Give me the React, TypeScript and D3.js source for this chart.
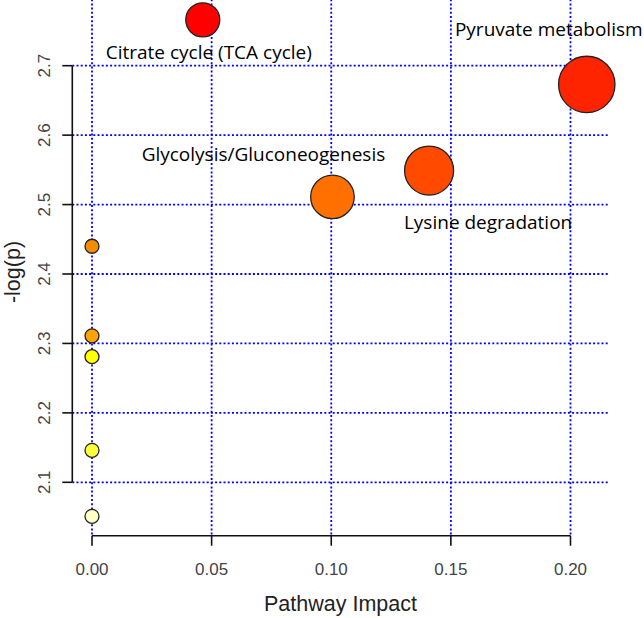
import React from "react";
import * as d3 from "d3";

// ---- data ----
const pathwayNames = [
  "Citrate cycle (TCA cycle)",
  "Pyruvate metabolism",
  "Lysine degradation",
  "Glycolysis/Gluconeogenesis",
  "",
  "",
  "",
  "",
  "",
];
const impactValues = [0.0463, 0.2068, 0.1409, 0.1005, 0, 0, 0, 0, 0];
const logPValues = [2.766, 2.673, 2.549, 2.511, 2.44, 2.311, 2.281, 2.146, 2.051];
const pointColors = [
  "#FF0000",
  "#FF2400",
  "#FF4A00",
  "#FF7000",
  "#F58C00",
  "#FFA300",
  "#FFFF00",
  "#FFFF3C",
  "#FFFFC6",
];
const xTicks = [0, 0.05, 0.1, 0.15, 0.2];
const yTicks = [2.1, 2.2, 2.3, 2.4, 2.5, 2.6, 2.7];
const xTitle = "Pathway Impact";
const yTitle = "-log(p)";

// label placement offsets relative to its point (dx, dy of text baseline-center)
const labelOffsets: [number, number][] = [
  [6, 39],
  [-38, -48],
  [59, 58],
  [-69, -36],
];

const W = 644;
const H = 618;

export default function App() {
  const x = d3.scaleLinear().domain([0, 0.2]).range([92, 570.5]);
  const y = d3.scaleLinear().domain([2.1, 2.7]).range([482.3, 65.7]);
  const r = d3.scaleSqrt().domain([0, 0.2068]).range([7, 28.2]);

  const plotLeft = 72.3;
  const plotRight = 608;
  const plotBottom = 535.7;

  const axisFont = "'Liberation Sans', Arial, sans-serif";
  const labelFont = "'Open Sans', sans-serif";

  const points = logPValues.map((lp, i) => ({
    name: pathwayNames[i],
    impact: impactValues[i],
    lp,
    color: pointColors[i],
  }));
  const drawOrder = [...points].sort((a, b) => b.impact - a.impact);

  return (
    <svg
      width={W}
      height={H}
      viewBox={`0 0 ${W} ${H}`}
      style={{ position: "absolute", left: 0, top: 0, background: "#fff" }}
    >
      <rect x={0} y={0} width={W} height={H} fill="#fff" />
      {/* grid */}
      <g stroke="#0000ff" strokeWidth={1.8} strokeDasharray="2 2.2" fill="none">
        {xTicks.map((t) => (
          <line key={"vx" + t} x1={x(t)} x2={x(t)} y1={-5} y2={plotBottom} />
        ))}
        {yTicks.map((t) => (
          <line key={"hy" + t} x1={plotLeft} x2={plotRight} y1={y(t)} y2={y(t)} />
        ))}
      </g>

      {/* axes */}
      <g stroke="#111" strokeWidth={1.6} fill="none">
        <line x1={plotLeft} x2={plotLeft} y1={y(2.7)} y2={y(2.1)} />
        {yTicks.map((t) => (
          <line key={"yt" + t} x1={plotLeft - 10} x2={plotLeft} y1={y(t)} y2={y(t)} />
        ))}
        <line x1={x(0)} x2={x(0.2)} y1={plotBottom} y2={plotBottom} />
        {xTicks.map((t) => (
          <line key={"xt" + t} x1={x(t)} x2={x(t)} y1={plotBottom} y2={plotBottom + 10} />
        ))}
      </g>

      {/* tick labels */}
      <g fontFamily={axisFont} fontSize={17} fill="#444">
        {xTicks.map((t) => (
          <text key={"xl" + t} x={x(t)} y={575} textAnchor="middle">
            {d3.format(".2f")(t)}
          </text>
        ))}
        {yTicks.map((t) => (
          <text
            key={"yl" + t}
            transform={`translate(50,${y(t)}) rotate(-90)`}
            textAnchor="middle"
          >
            {d3.format(".1f")(t)}
          </text>
        ))}
      </g>

      {/* axis titles */}
      <text
        x={340.5}
        y={611}
        textAnchor="middle"
        fontFamily={axisFont}
        fontSize={21.5}
        fill="#222"
      >
        {xTitle}
      </text>
      <text
        transform={`translate(20,272) rotate(-90)`}
        textAnchor="middle"
        fontFamily={axisFont}
        fontSize={21.5}
        fill="#222"
      >
        {yTitle}
      </text>

      {/* points */}
      <g stroke="#222" strokeWidth={1.3}>
        {drawOrder.map((p, i) => (
          <circle key={"c" + i} cx={x(p.impact)} cy={y(p.lp)} r={r(p.impact)} fill={p.color} />
        ))}
      </g>

      {/* labels */}
      <g fontFamily={labelFont} fontSize={19} fill="#000" textAnchor="middle">
        {points.map((p, i) =>
          p.name ? (
            <text
              key={"l" + i}
              x={x(p.impact) + labelOffsets[i][0]}
              y={y(p.lp) + labelOffsets[i][1]}
            >
              {p.name}
            </text>
          ) : null
        )}
      </g>
    </svg>
  );
}
